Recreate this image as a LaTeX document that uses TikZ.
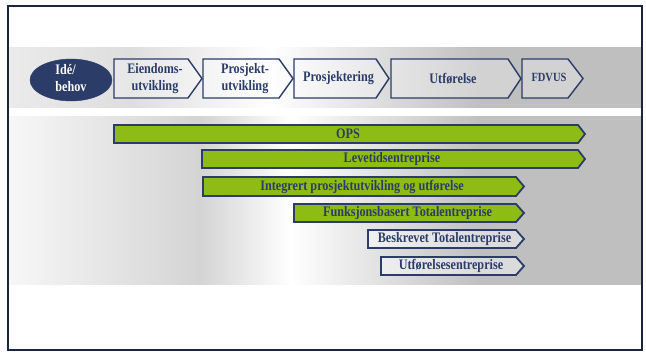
\documentclass[tikz,border=0pt]{standalone}
\usepackage{fontspec}
\usepackage{graphicx}
\setmainfont{Liberation Serif}
\usetikzlibrary{shapes.geometric}
\definecolor{navy}{RGB}{43,60,104}
\definecolor{framec}{RGB}{27,38,60}
\definecolor{grn}{RGB}{143,188,20}
\newcommand\sq[1]{\scalebox{0.84}[1]{#1}}
\tikzset{
  phase/.style={draw=navy, line width=1.4pt, fill=white, fill opacity=0.3},
  gbar/.style={draw=navy, line width=1.8pt, fill=grn},
  wbar/.style={draw=navy, line width=1.8pt, fill=white, fill opacity=0.45},
  txt/.style={text=navy, font=\bfseries\fontsize{14.5}{17}\selectfont, align=center, inner sep=0pt},
}
% #1 name, #2 left, #3 body end, #4 tip, #5 top, #6 bottom, #7 style, #8 text offset, #9 text
\newcommand\chevshape[9]{%
  \path[#7] (#2,#5) -- (#3,#5) -- (#4,{(#5+#6)/2}) -- (#3,#6) -- (#2,#6) -- cycle;
  \node[txt] (#1) at ({(#2+#4)/2-#8},{(#5+#6)/2}) {#9};
}
\newcommand\bandseg[6]{%
  \shade[left color=#5, right color=#6] (#1,#3) rectangle ({#2+0.6},#4);
}
\begin{document}
\begin{tikzpicture}[x=1pt,y=-1pt]
\useasboundingbox (0,0) rectangle (646,353);
\fill[white] (0,0) rectangle (646,353);
% band 1
\bandseg{8}{130}{48}{108}{black!8}{black!13}
\bandseg{130}{270}{48}{108}{black!13}{white}
\bandseg{270}{480}{48}{108}{white}{black!25}
\bandseg{480}{642}{48}{108}{black!25}{black!25}
% band 2
\bandseg{8}{200}{117}{284}{black!3}{black!17}
\bandseg{200}{290}{117}{284}{black!17}{white}
\bandseg{290}{480}{117}{284}{white}{black!25}
\bandseg{480}{642}{117}{284}{black!25}{black!25}
% phases
\node[ellipse, fill=navy, draw=navy, minimum width=82pt, minimum height=42pt, inner sep=0pt] (ideshape) at (71,80) {};
\node[txt, text=white, align=left] (ide) at (71,78) {\sq{Idé/}\\\sq{behov}};
\chevshape{eiendom}{114}{188}{202}{59}{98}{phase}{3}{\sq{Eiendoms-}\\\sq{utvikling}}
\chevshape{prosjekt}{203}{279}{293}{59}{98}{phase}{3}{\sq{Prosjekt-}\\\sq{utvikling}}
\chevshape{prosjektering}{294}{376}{389}{59}{98}{phase}{3}{\sq{Prosjektering}}
\chevshape{utforelse}{391}{508}{521}{59}{98}{phase}{3}{\sq{Utførelse}}
\path[phase] (522,59) -- (568,59) -- (583,78.5) -- (568,98) -- (522,98) -- cycle;
\node[txt, font=\bfseries\fontsize{12.5}{15}\selectfont] (fdvus) at (549,77) {\sq{FDVUS}};
% bars
\chevshape{ops}{114}{578}{585}{125}{143}{gbar}{1.5}{\sq{OPS}}
\chevshape{levetid}{202}{578}{585}{150}{168}{gbar}{1.5}{\sq{Levetidsentreprise}}
\chevshape{integrert}{203}{516}{524}{177}{196}{gbar}{1.5}{\sq{Integrert prosjektutvikling og utførelse}}
\chevshape{funksjon}{294}{516}{524}{204}{222}{gbar}{1.5}{\sq{Funksjonsbasert Totalentreprise}}
\chevshape{beskrevet}{368}{516}{524}{230}{248}{wbar}{1.5}{\sq{Beskrevet Totalentreprise}}
\chevshape{utfent}{381}{516}{524}{257}{275}{wbar}{1.5}{\sq{Utførelsesentreprise}}
% frame
\draw[framec, line width=1.5pt] (8,6) rectangle (642,350);
\end{tikzpicture}
\end{document}
